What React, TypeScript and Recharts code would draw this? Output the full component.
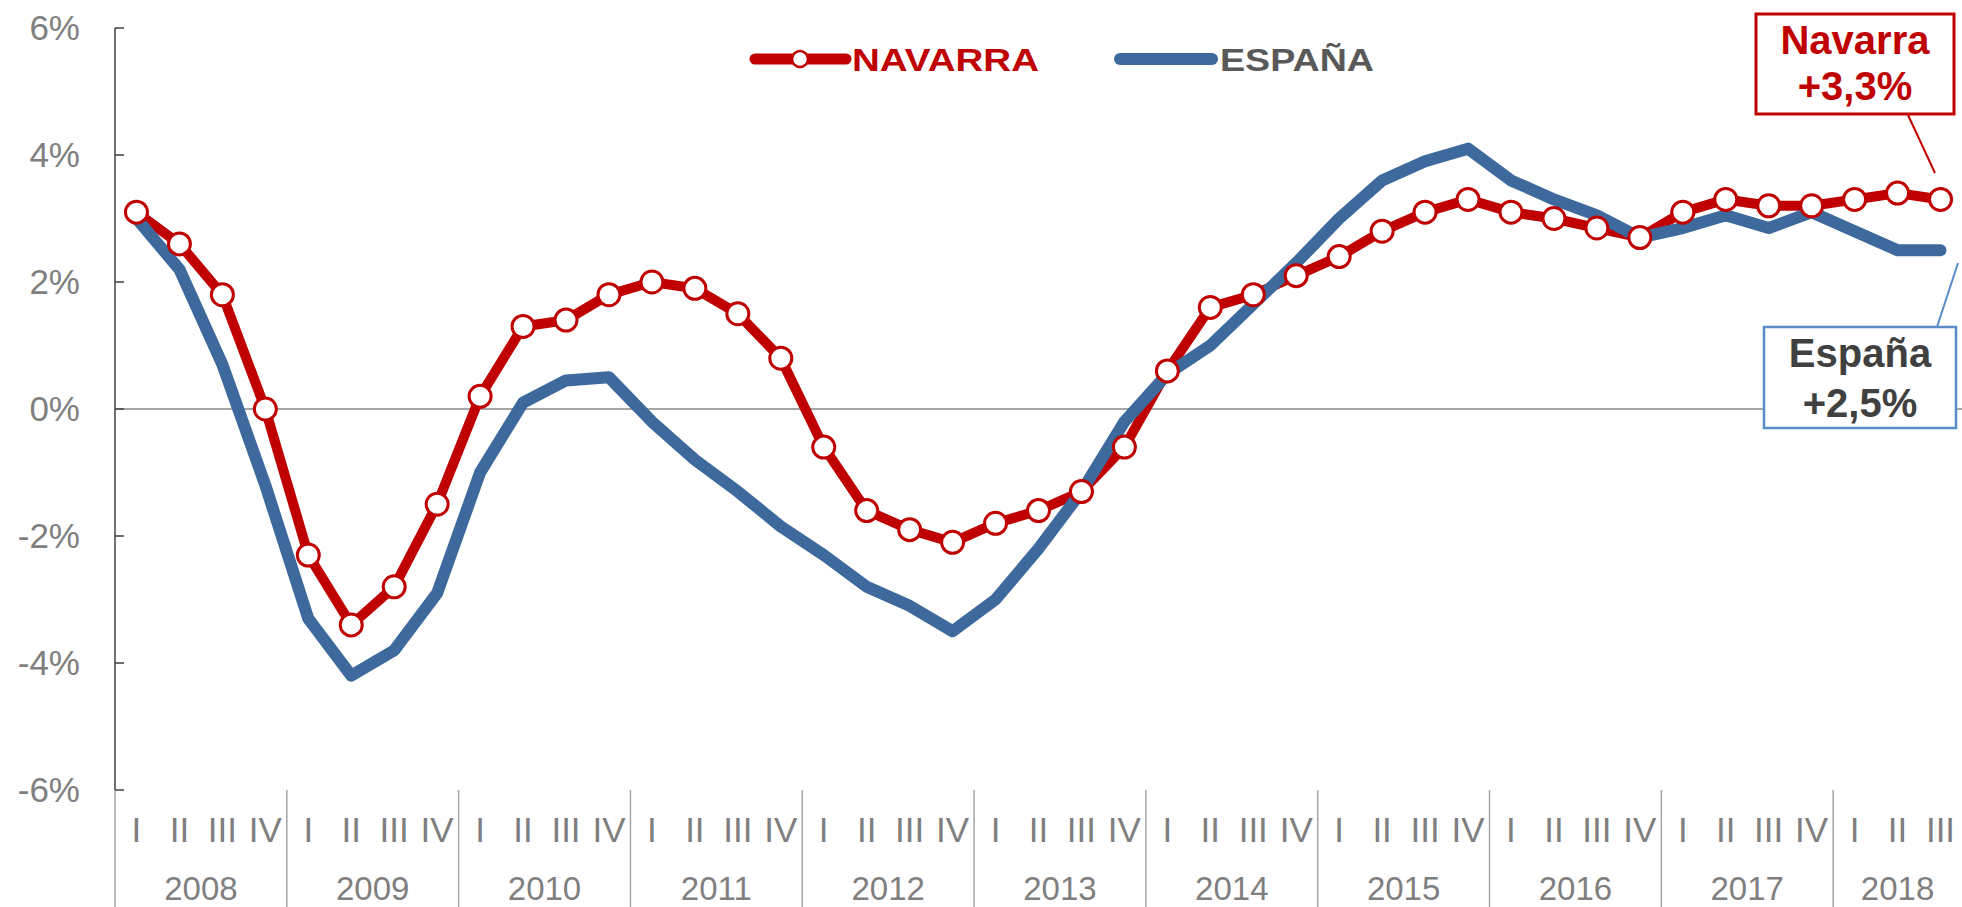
import React from "react";
import { LineChart, Line, XAxis, YAxis, ReferenceLine } from "recharts";

// --- data (quarterly growth, %) ---
const YEARS = ["2008", "2009", "2010", "2011", "2012", "2013", "2014", "2015", "2016", "2017", "2018"];
const QUARTERS = ["I", "II", "III", "IV"];

const NAVARRA = [
  3.1, 2.6, 1.8, 0.0,
  -2.3, -3.4, -2.8, -1.5,
  0.2, 1.3, 1.4, 1.8,
  2.0, 1.9, 1.5, 0.8,
  -0.6, -1.6, -1.9, -2.1,
  -1.8, -1.6, -1.3, -0.6,
  0.6, 1.6, 1.8, 2.1,
  2.4, 2.8, 3.1, 3.3,
  3.1, 3.0, 2.85, 2.7,
  3.1, 3.3, 3.2, 3.2,
  3.3, 3.4, 3.3,
];

const ESPANA = [
  3.0, 2.2, 0.7, -1.2,
  -3.3, -4.2, -3.8, -2.9,
  -1.0, 0.1, 0.45, 0.5,
  -0.2, -0.8, -1.3, -1.85,
  -2.3, -2.8, -3.1, -3.5,
  -3.0, -2.2, -1.3, -0.2,
  0.55, 1.0, 1.65, 2.3,
  3.0, 3.6, 3.9, 4.1,
  3.6, 3.3, 3.05, 2.7,
  2.85, 3.05, 2.85, 3.1,
  2.8, 2.5, 2.5,
];

const Y_TICKS = [-6, -4, -2, 0, 2, 4, 6];

const data = NAVARRA.map((v, i) => ({
  i,
  year: YEARS[Math.floor(i / 4)],
  quarter: QUARTERS[i % 4],
  navarra: v,
  espana: ESPANA[i],
}));

const N = data.length;
const yearBounds = YEARS.map((_, k) => 4 * k - 0.5);
const yearCenters = YEARS.map((_, k) => (4 * k + Math.min(4 * k + 3, N - 1)) / 2);
const xTicks = Array.from(
  new Set([...data.map((d) => d.i), ...yearBounds, ...yearCenters])
).sort((a, b) => a - b);

const FONT = "'Liberation Sans', Arial, Helvetica, sans-serif";
const NARROW = "'Liberation Sans Narrow', 'Arial Narrow', 'Liberation Sans', Arial, sans-serif";
const RED = "#C00000";
const BLUE = "#3D699D";
const GRAY = "#7F7F7F";
const DARK = "#595959";

const fmt = (v: number) => `+${v.toFixed(1).replace(".", ",")}%`;

function YTick(props: any) {
  const { x, y, payload } = props;
  return (
    <g>
      <line x1={x} x2={x + 9} y1={y} y2={y} stroke="#404040" strokeWidth={1.5} />
      <text x={x - 35} y={y + 12} textAnchor="end" fill={GRAY} fontSize={35} fontFamily={FONT}>
        {`${payload.value}%`}
      </text>
    </g>
  );
}

function XTick(props: any) {
  const { x, y, payload } = props;
  const v = payload.value;
  const parts: React.ReactNode[] = [];
  if (Number.isInteger(v) && v >= 0 && v < N) {
    parts.push(
      <text key="q" x={x} y={y + 52} textAnchor="middle" fill={GRAY} fontSize={35} fontFamily={NARROW}>
        {data[v].quarter}
      </text>
    );
  }
  const yc = yearCenters.indexOf(v);
  if (yc >= 0) {
    parts.push(
      <text key="y" x={x} y={y + 110} textAnchor="middle" fill={GRAY} fontSize={33} fontFamily={FONT}>
        {YEARS[yc]}
      </text>
    );
  }
  if (yearBounds.indexOf(v) >= 0) {
    parts.push(<line key="b" x1={x} x2={x} y1={y} y2={y + 120} stroke="#A6A6A6" strokeWidth={1.5} />);
  }
  return <g>{parts}</g>;
}

function Overlay() {
  const lastNav = NAVARRA[NAVARRA.length - 1];
  const lastEsp = ESPANA[ESPANA.length - 1];
  return (
    <svg
      width={1962}
      height={907}
      style={{ position: "absolute", left: 0, top: 0, pointerEvents: "none" }}
    >
      {/* legend */}
      <line x1={755} x2={846} y1={59} y2={59} stroke={RED} strokeWidth={11} strokeLinecap="round" />
      <circle cx={800} cy={59} r={8} fill="#fff" stroke={RED} strokeWidth={2.5} />
      <text x={852} y={71} fill={RED} fontSize={32} fontWeight="bold" fontFamily={FONT} textLength={187} lengthAdjust="spacingAndGlyphs">
        NAVARRA
      </text>
      <line x1={1120} x2={1212} y1={59} y2={59} stroke={BLUE} strokeWidth={12} strokeLinecap="round" />
      <text x={1220} y={71} fill={DARK} fontSize={32} fontWeight="bold" fontFamily={FONT} textLength={154} lengthAdjust="spacingAndGlyphs">
        ESPAÑA
      </text>

      {/* Navarra call-out */}
      <line x1={1908} y1={115} x2={1935} y2={173} stroke={RED} strokeWidth={2} />
      <rect x={1756} y={14} width={198} height={100} fill="#fff" stroke={RED} strokeWidth={3} />
      <text x={1855} y={54} textAnchor="middle" fill={RED} fontSize={40} fontWeight="bold" fontFamily={FONT}>
        Navarra
      </text>
      <text x={1855} y={100} textAnchor="middle" fill={RED} fontSize={40} fontWeight="bold" fontFamily={FONT}>
        {fmt(lastNav)}
      </text>

      {/* España call-out */}
      <line x1={1937} y1={327} x2={1958} y2={263} stroke="#5B8BC8" strokeWidth={2} />
      <rect x={1764} y={327} width={192} height={101} fill="#fff" stroke="#5B8BC8" strokeWidth={2.5} />
      <text x={1860} y={367} textAnchor="middle" fill="#404040" fontSize={40} fontWeight="bold" fontFamily={FONT}>
        España
      </text>
      <text x={1860} y={417} textAnchor="middle" fill="#404040" fontSize={40} fontWeight="bold" fontFamily={FONT}>
        {fmt(lastEsp)}
      </text>
    </svg>
  );
}

export default function App() {
  return (
    <div style={{ position: "absolute", left: 0, top: 0, width: 1962, height: 907, background: "#fff", overflow: "hidden" }}>
      <LineChart width={1962} height={907} data={data} margin={{ top: 28, right: 0, bottom: 0, left: 0 }}>
        <XAxis
          dataKey="i"
          type="number"
          domain={[-0.5, N - 0.5]}
          ticks={xTicks}
          interval={0}
          tick={<XTick />}
          tickLine={false}
          axisLine={false}
          tickSize={0}
          tickMargin={0}
          height={117}
        />
        <YAxis
          domain={[-6, 6]}
          ticks={Y_TICKS}
          width={115}
          tick={<YTick />}
          tickLine={false}
          tickSize={0}
          tickMargin={0}
          axisLine={{ stroke: "#404040", strokeWidth: 1.5 }}
          interval={0}
        />
        <ReferenceLine y={0} stroke="#A6A6A6" strokeWidth={2} />
        <Line
          type="linear"
          dataKey="navarra"
          name="NAVARRA"
          stroke={RED}
          strokeWidth={10}
          dot={{ r: 11, fill: "#fff", stroke: RED, strokeWidth: 3 }}
          isAnimationActive={false}
        />
        <Line
          type="linear"
          dataKey="espana"
          name="ESPAÑA"
          stroke={BLUE}
          strokeWidth={12}
          strokeLinecap="round"
          strokeLinejoin="round"
          dot={false}
          isAnimationActive={false}
        />
      </LineChart>
      <Overlay />
    </div>
  );
}
